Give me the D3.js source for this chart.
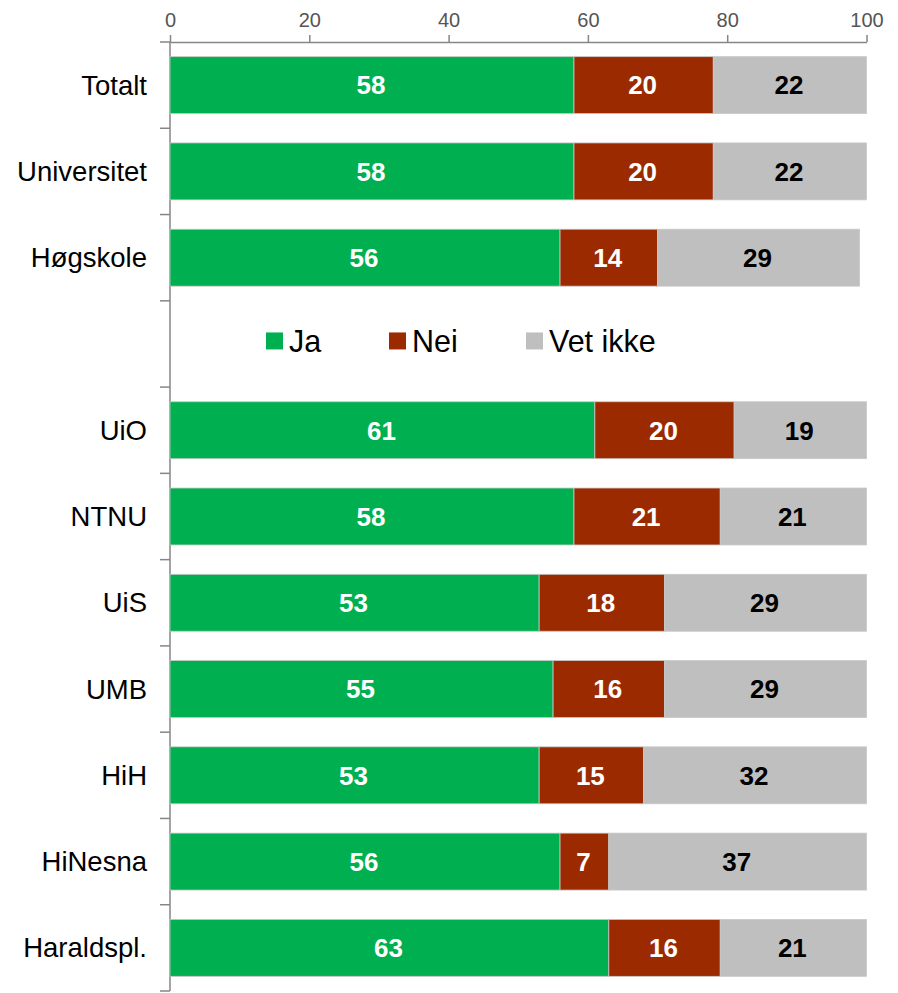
<!DOCTYPE html>
<html><head><meta charset="utf-8">
<script src="https://cdn.jsdelivr.net/npm/d3@7"></script>
<style>body{margin:0;background:#fff}svg{display:block}</style>
</head><body>
<script>
const categories = ["Totalt","Universitet","Høgskole","","UiO","NTNU","UiS","UMB","HiH","HiNesna","Haraldspl."];
const ja     = [58,58,56,null,61,58,53,55,53,56,63];
const nei    = [20,20,14,null,20,21,18,16,15,7,16];
const vetIkke= [22,22,29,null,19,21,29,29,32,37,21];
const seriesNames = ["Ja","Nei","Vet ikke"];
const xTicks = [0,20,40,60,80,100];
const colors = ["#00B050","#9B2A00","#BFBFBF"];
const labelColors = ["#fff","#fff","#000"];

const W=898,H=993;
const svg=d3.select("body").append("svg").attr("width",W).attr("height",H);
const font="Liberation Sans, Arial, sans-serif";
const x=d3.scaleLinear().domain([0,100]).range([170,866.5]);
const rowKeys=categories.map((c,i)=>i);
const yRow=d3.scaleBand().domain(rowKeys).range([42,991]).padding(0);
const yBar=d3.scaleBand().domain(rowKeys).range([42,991]).paddingInner(0.34).paddingOuter(0.17);

// top axis
const axisCol="#868686";
const gx=svg.append("g").attr("transform","translate(0,42)")
  .call(d3.axisTop(x).tickValues(xTicks).tickSize(7).tickPadding(8).tickSizeOuter(0));
gx.select(".domain").attr("stroke",axisCol).attr("stroke-width",1.5);
gx.selectAll(".tick line").attr("stroke",axisCol).attr("stroke-width",1.5);
gx.selectAll(".tick text").attr("font-family",font).attr("font-size",20).attr("fill","#555");

// left axis line + ticks at band boundaries
svg.append("line").attr("x1",170).attr("x2",170).attr("y1",42).attr("y2",991)
  .attr("stroke",axisCol).attr("stroke-width",1.5);
const bounds=rowKeys.map(k=>yRow(k)).concat([yRow(rowKeys[rowKeys.length-1])+yRow.bandwidth()]);
svg.selectAll(".ytick").data(bounds).join("line")
  .attr("x1",160).attr("x2",170).attr("y1",d=>d).attr("y2",d=>d)
  .attr("stroke",axisCol).attr("stroke-width",1.5);

// category labels
svg.selectAll(".cat").data(categories).join("text")
  .attr("x",147).attr("y",(d,i)=>yRow(i)+yRow.bandwidth()/2)
  .attr("dy","0.35em").attr("text-anchor","end")
  .attr("font-family",font).attr("font-size",27.5).attr("fill","#000").text(d=>d);

// stacked bars
const data=categories.map((c,i)=>({i,vals:[ja[i],nei[i],vetIkke[i]]})).filter(d=>d.vals[0]!=null);
data.forEach(d=>{
  let acc=0;
  d.vals.forEach((v,s)=>{
    const x0=x(acc),x1=x(acc+v);
    svg.append("rect").attr("x",x0).attr("y",yBar(d.i)).attr("width",x1-x0).attr("height",yBar.bandwidth())
      .attr("fill",colors[s]).attr("stroke","#c8c8c8").attr("stroke-width",0.8);
    svg.append("text").attr("x",(x0+x1)/2-1).attr("y",yBar(d.i)+yBar.bandwidth()/2).attr("dy","0.36em")
      .attr("text-anchor","middle").attr("font-family",font).attr("font-weight","bold")
      .attr("font-size",26).attr("fill",labelColors[s]).text(v);
    acc+=v;
  });
});

// legend in empty row
const ly=yRow(3)+yRow.bandwidth()/2-3;
const legendX=[266,389,526];
seriesNames.forEach((n,s)=>{
  svg.append("rect").attr("x",legendX[s]).attr("y",ly-8.5).attr("width",17).attr("height",17).attr("fill",colors[s]);
  svg.append("text").attr("x",legendX[s]+23).attr("y",ly).attr("dy","0.36em")
    .attr("font-family",font).attr("font-size",30.5).attr("fill","#000").text(n);
});
</script>
</body></html>
